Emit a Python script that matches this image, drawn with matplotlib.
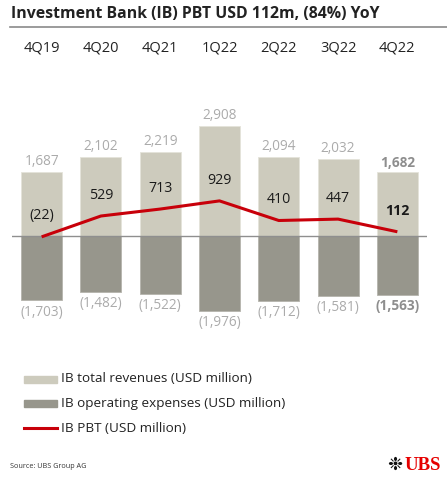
import matplotlib
matplotlib.use('Agg')
import matplotlib.pyplot as plt
from matplotlib.patches import Rectangle
from matplotlib.lines import Line2D

quarters = ['4Q19', '4Q20', '4Q21', '1Q22', '2Q22', '3Q22', '4Q22']
revenues = [1687, 2102, 2219, 2908, 2094, 2032, 1682]
expenses = [-1703, -1482, -1522, -1976, -1712, -1581, -1563]
pbt = [-22, 529, 713, 929, 410, 447, 112]

rev_labels = ['1,687', '2,102', '2,219', '2,908', '2,094', '2,032', '1,682']
exp_labels = ['(1,703)', '(1,482)', '(1,522)', '(1,976)', '(1,712)', '(1,581)', '(1,563)']
pbt_labels = ['(22)', '529', '713', '929', '410', '447', '112']

REV_COL = '#cdcbbd'
EXP_COL = '#97968c'
PBT_COL = '#c8000a'
LBL_COL = '#ababab'

plt.rcParams['font.family'] = ['Open Sans', 'DejaVu Sans']

W, H = 447, 480
fig = plt.figure(figsize=(W / 100, H / 100), dpi=100)

# axes placed in pixel terms: x 12..427, y 60..340
ax = fig.add_axes([12 / W, 1 - 340 / H, 415 / W, 280 / H])
ax.set_xlim(-0.5, 6.5)
ax.set_ylim(-(340 - 236) / 0.0378, (236 - 60) / 0.0378)
ax.axis('off')

x = list(range(len(quarters)))
ax.bar(x, revenues, width=0.69, color=REV_COL, edgecolor='#e4e3da', linewidth=0.6, zorder=1)
ax.bar(x, expenses, width=0.69, color=EXP_COL, edgecolor='#b5b4ac', linewidth=0.6, zorder=1)
ax.axhline(0, color='#8f8f8f', linewidth=1.0, zorder=2)
ax.plot(x, pbt, color=PBT_COL, linewidth=2.2, zorder=3, solid_capstyle='butt')

last = len(quarters) - 1
for i in x:
    bold = 'bold' if i == last else 'normal'
    col = '#8e8e8e' if i == last else LBL_COL
    ax.annotate(rev_labels[i], (i, revenues[i]), xytext=(0, 2), textcoords='offset points',
                ha='center', va='bottom', fontsize=9.8, color=col, fontweight=bold)
    ax.annotate(exp_labels[i], (i, expenses[i]), xytext=(0, -3), textcoords='offset points',
                ha='center', va='top', fontsize=9.8, color=col, fontweight=bold)
    ax.annotate(pbt_labels[i], (i, pbt[i]), xytext=(0, 15), textcoords='offset points',
                ha='center', va='center', fontsize=10.2, color='#1a1a1a', fontweight=bold)

# quarter labels along the top
for i, q in enumerate(quarters):
    fig.text((12 + (i + 0.5) * 415 / 7) / W, 1 - 48 / H, q, ha='center', va='center',
             fontsize=10.5, color='#222222')

# title and rule
fig.text(11 / W, 1 - 14 / H, 'Investment Bank (IB) PBT USD 112m, (84%) YoY',
         ha='left', va='center', fontsize=11.4, fontweight='bold', color='#222222')
fig.add_artist(Line2D([10 / W, 1.0], [1 - 27 / H, 1 - 27 / H], color='#8a8a8a', linewidth=1.2))

# legend
leg_items = [('IB total revenues (USD million)', REV_COL, 'patch'),
             ('IB operating expenses (USD million)', EXP_COL, 'patch'),
             ('IB PBT (USD million)', PBT_COL, 'line')]
leg_y = [379, 403, 428]
for (lab, col, kind), yy in zip(leg_items, leg_y):
    yf = 1 - yy / H
    if kind == 'patch':
        fig.add_artist(Rectangle((24 / W, yf - 3.5 / H), 33 / W, 7 / H, color=col))
    else:
        fig.add_artist(Line2D([24 / W, 57 / W], [yf, yf], color=col, linewidth=2.2))
    fig.text(61 / W, yf, lab, ha='left', va='center', fontsize=9.7, color='#222222')

fig.text(10 / W, 1 - 467 / H, 'Source: UBS Group AG', ha='left', va='center',
         fontsize=5.2, color='#333333')
fig.text(395 / W, 1 - 465 / H, '\u2749', ha='center', va='center', fontsize=13,
         color='#111111', family='DejaVu Sans')
fig.text(405 / W, 1 - 465 / H, 'UBS', ha='left', va='center', fontsize=13.5,
         color='#e60000', family='Liberation Serif', fontweight='bold')

fig.savefig('out.png', dpi=100)
